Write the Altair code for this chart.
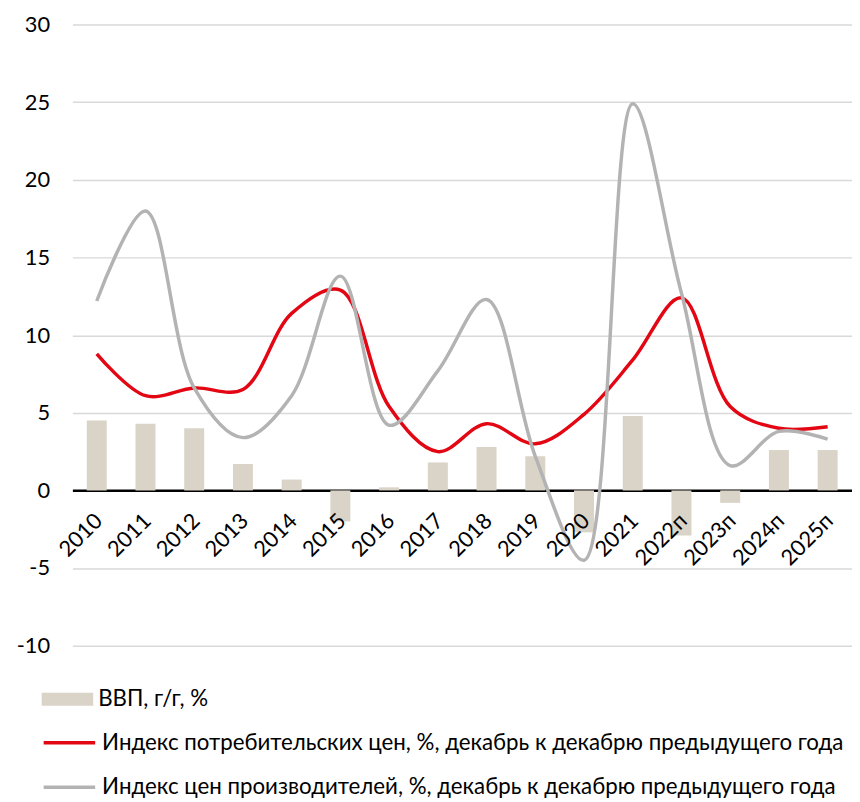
import altair as alt
import pandas as pd

years = ["2010", "2011", "2012", "2013", "2014", "2015", "2016", "2017",
         "2018", "2019", "2020", "2021", "2022п", "2023п", "2024п", "2025п"]
gdp = [4.5, 4.3, 4.0, 1.7, 0.7, -2.0, 0.2, 1.8, 2.8, 2.2, -2.7, 4.8, -2.9, -0.8, 2.6, 2.6]
cpi = [8.8, 6.1, 6.6, 6.5, 11.4, 12.9, 5.4, 2.5, 4.3, 3.0, 4.9, 8.4, 12.4, 5.4, 4.0, 4.1]
ppi = [12.2, 18.0, 6.6, 3.4, 6.1, 13.8, 4.2, 7.7, 12.3, 2.2, -4.5, 24.9, 12.7, 1.6, 3.8, 3.3]
y_ticks = [-10, -5, 0, 5, 10, 15, 20, 25, 30]

s_gdp = "ВВП, г/г, %"
s_cpi = "Индекс потребительских цен, %, декабрь к декабрю предыдущего года"
s_ppi = "Индекс цен производителей, %, декабрь к декабрю предыдущего года"

FONT = "Lato, Roboto, sans-serif"
W, H = 787, 627
LEG_FS = 22.5

bars_df = pd.DataFrame({"year": years, "value": gdp, "series": s_gdp})
cpi_df = pd.DataFrame({"year": years, "value": cpi, "series": s_cpi})
ppi_df = pd.DataFrame({"year": years, "value": ppi, "series": s_ppi})

x_axis = alt.Axis(labelAngle=-45, labelAlign="right", labelBaseline="middle",
                  labelPadding=27, labelOffset=2, offset=-157, zindex=1,
                  domain=False, ticks=False, grid=False,
                  labelFontSize=22, labelColor="#000000", labelFont=FONT)
x_enc = alt.X("year:N", sort=years, title=None,
              scale=alt.Scale(paddingInner=0.59, paddingOuter=0.295),
              axis=x_axis)
y_scale = alt.Scale(domain=[-10, 30], nice=False, zero=False)
y_axis = alt.Axis(values=y_ticks, domain=False, ticks=False, grid=True,
                  gridColor={"condition": {"test": "datum.value === 0", "value": "#000000"},
                             "value": "#D9D9D9"},
                  gridWidth={"condition": {"test": "datum.value === 0", "value": 2.5},
                             "value": 1.5},
                  labelFontSize=22, labelColor="#000000", labelFont=FONT,
                  labelExpr="'' + datum.value",
                  labelPadding=23, title=None)
y_enc = alt.Y("value:Q", scale=y_scale, axis=y_axis)


def leg(y, **kw):
    return alt.Legend(orient="none", legendX=-31, legendY=y, title=None,
                      labelFontSize=LEG_FS, labelFont=FONT, labelColor="#000000",
                      labelOffset=5, labelLimit=900, **kw)


bars = alt.Chart(bars_df).mark_bar().encode(
    x=x_enc,
    y=y_enc,
    fill=alt.Fill("series:N", scale=alt.Scale(domain=[s_gdp], range=["#DAD4C8"]),
                  legend=leg(655, symbolType="M-1,-0.25L1,-0.25L1,0.25L-1,0.25Z",
                             symbolSize=2704, symbolStrokeWidth=0)),
)


def line_layer(df, name, color, ly):
    return alt.Chart(df).mark_line(interpolate="catmull-rom", strokeWidth=3.5).encode(
        x=x_enc,
        y=y_enc,
        stroke=alt.Stroke("series:N",
                          scale=alt.Scale(domain=[name], range=[color]),
                          legend=leg(ly, symbolType="stroke", symbolSize=2704,
                                     symbolStrokeWidth=3.5)),
    )


red = line_layer(cpi_df, s_cpi, "#E30613", 697)
gray = line_layer(ppi_df, s_ppi, "#B3B3B3", 742)

chart = alt.layer(bars, red, gray).resolve_scale(
    fill="independent", stroke="independent"
).properties(
    width=W, height=H,
    view=alt.ViewBackground(stroke="transparent", strokeWidth=0),
    autosize=alt.AutoSizeParams(type="none"),
    padding={"left": 65, "top": 13, "right": 0, "bottom": 150},
).configure(
    font=FONT,
    view=alt.ViewConfig(stroke="transparent", strokeWidth=0),
    axis=alt.AxisConfig(domain=False),
    style={"cell": {"stroke": "transparent", "strokeWidth": 0}},
)

chart.save("out.html", embed_options={"renderer": "svg", "actions": False})
